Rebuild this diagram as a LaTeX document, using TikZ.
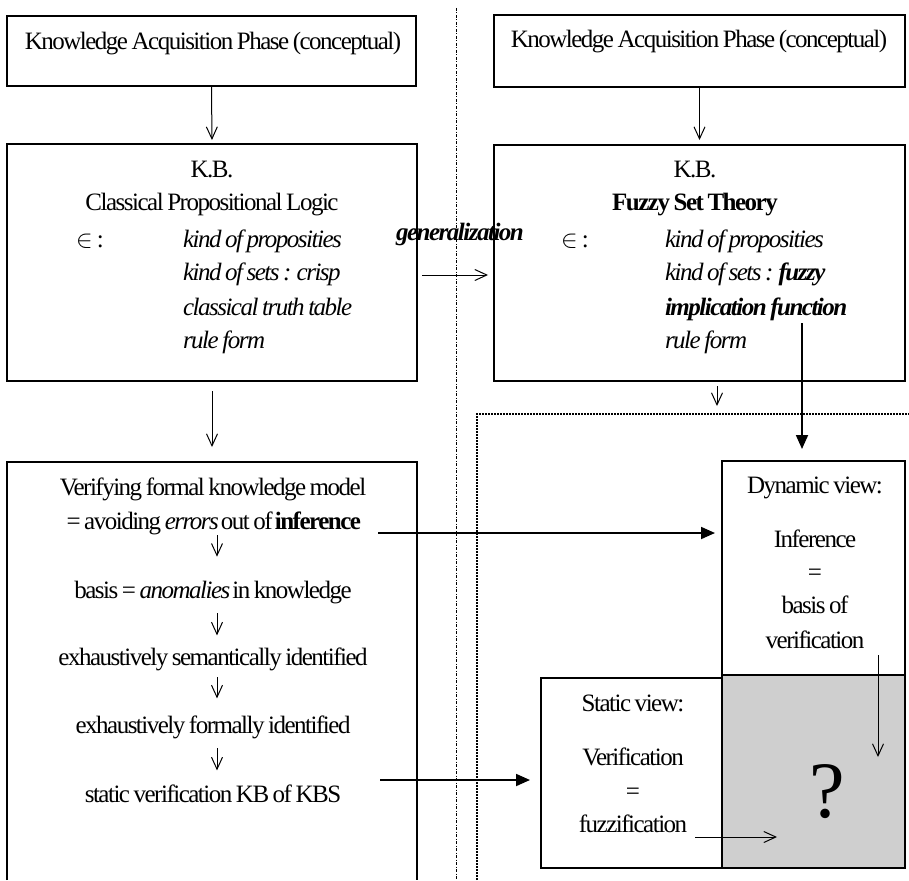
\documentclass[tikz,border=0pt]{standalone}
\usepackage{fontspec}
\setmainfont{Liberation Serif}[LetterSpace=-6, WordSpace=0.75]
\usetikzlibrary{arrows.meta}
\begin{document}
\begin{tikzpicture}[x=1pt,y=-1pt,
  txt/.style={inner sep=0pt, outer sep=0pt, anchor=base, font=\fontsize{25}{29}\selectfont},
  ltxt/.style={txt, anchor=base west},
  boxframe/.style={draw, line width=1.8pt, inner sep=0pt, outer sep=0pt, anchor=north west},
  thinarrow/.style={line width=1pt, -{Straight Barb[length=12pt,width=11pt,line width=1pt]}},
  boldarrow/.style={line width=1.8pt, -{Triangle[length=14pt,width=12pt]}},
  separator/.style={line width=1pt, dash pattern=on 3pt off 1.5pt on 1pt off 1.5pt},
  region/.style={line width=1.6pt, dash pattern=on 1.6pt off 1.4pt},
]
\fill[white] (0,0) rectangle (909,880);
\useasboundingbox (0,0) rectangle (909,880);

% column separator and dotted region of the fuzzy side
\draw[separator] (456,8) -- (456,880);
\draw[region] (477,880) |- (909,414);

% boxes
\node[boxframe, minimum width=409pt, minimum height=70pt] (hdrL) at (7,16) {};
\node[boxframe, minimum width=411pt, minimum height=72pt] (hdrR) at (494,15) {};
\node[boxframe, minimum width=410pt, minimum height=237pt] (kbL) at (7,144) {};
\node[boxframe, minimum width=411pt, minimum height=236pt] (kbR) at (494,145) {};
\draw[line width=1.8pt] (7,880) |- (417,462) -- (417,880);
\coordinate (lbN) at (212,462);
\node[boxframe, minimum width=364pt, minimum height=190pt] (stat) at (541,678) {};
\node[boxframe, fill=gray!38, minimum width=183pt, minimum height=193pt] (grey) at (722,675) {};
\node[boxframe, fill=white, minimum width=183pt, minimum height=214pt] (dyn) at (722,461) {};

% headers
\node[txt] (hdrLt) at (213,50) {Knowledge Acquisition Phase (conceptual)};
\node[txt] (hdrRt) at (699,48) {Knowledge Acquisition Phase (conceptual)};

% classical knowledge base
\node[txt] (kbLa) at (212,177) {K.B.};
\node[txt] (kbLb) at (212,210) {Classical Propositional Logic};
\node[txt] (kbLin) at (90,247) {$\in$\,:};
\node[ltxt] (kbL1) at (183,247) {\itshape kind of proposities};
\node[ltxt] (kbL2) at (183,280) {\itshape kind of sets : crisp};
\node[ltxt] (kbL3) at (183,315) {\itshape classical truth table};
\node[ltxt] (kbL4) at (183,348) {\itshape rule form};

% fuzzy knowledge base
\node[txt] (kbRa) at (695,177) {K.B.};
\node[txt] (kbRb) at (695,210) {\bfseries Fuzzy Set Theory};
\node[txt] (kbRin) at (575,247) {$\in$\,:};
\node[ltxt] (kbR1) at (665,247) {\itshape kind of proposities};
\node[ltxt] (kbR2) at (665,280) {\itshape kind of sets : \bfseries fuzzy};
\node[ltxt] (kbR3) at (665,315) {\bfseries\itshape implication function};
\node[ltxt] (kbR4) at (665,348) {\itshape rule form};

\node[txt] (gen) at (460,240) {\bfseries\itshape generalization};

% verification chain
\node[txt] (lb1) at (213,495) {Verifying formal knowledge model};
\node[txt] (lb2) at (213,529) {= avoiding \textit{errors} out of \textbf{inference}};
\node[txt] (lb3) at (213,598) {basis = \textit{anomalies} in knowledge};
\node[txt] (lb4) at (213,665) {exhaustively semantically identified};
\node[txt] (lb5) at (213,733) {exhaustively formally identified};
\node[txt] (lb6) at (213,802) {static verification KB of KBS};

% dynamic view
\node[txt] (dy1) at (815,493) {Dynamic view:};
\node[txt] (dy2) at (815,547) {Inference};
\node[txt] (dy3) at (815,580) {=};
\node[txt] (dy4) at (815,613) {basis of};
\node[txt] (dy5) at (815,648) {verification};

% static view
\node[txt] (st1) at (633,711) {Static view:};
\node[txt] (st2) at (633,765) {Verification};
\node[txt] (st3) at (633,799) {=};
\node[txt] (st4) at (633,832) {fuzzification};

\node[txt, font=\fontsize{80}{82}\selectfont] (qm) at (827,817) {?};

% connectors
\draw[thinarrow, shorten >=4pt] (hdrL.south) -- (kbL.north);
\draw[thinarrow, shorten >=5pt] (hdrR.south) -- (kbR.north);
\draw[thinarrow, shorten <=10pt, shorten >=15pt] (kbL.south) -- (lbN);
\coordinate (dotN) at (717,414);
\draw[thinarrow, shorten <=5pt, shorten >=8pt] (kbR.south -| dotN) -- (dotN);
\coordinate (genA) at (422,275);
\draw[thinarrow, shorten >=6pt] (genA) -- (genA -| kbR.west);
\coordinate (impl) at (802,323);
\draw[boldarrow, shorten >=12pt] (impl) -- (impl |- dyn.north);

\coordinate (ax) at (217,0);
\draw[thinarrow, shorten <=1pt, shorten >=24pt] (lb2.south -| ax) -- (lb3.north -| ax);
\draw[thinarrow, shorten <=10pt, shorten >=12pt] (lb3.south -| ax) -- (lb4.north -| ax);
\draw[thinarrow, shorten <=7pt, shorten >=17pt] (lb4.south -| ax) -- (lb5.north -| ax);
\draw[thinarrow, shorten <=10pt, shorten >=14pt] (lb5.south -| ax) -- (lb6.north -| ax);

\coordinate (infA) at (378,533);
\draw[boldarrow, shorten >=7pt] (infA) -- (infA -| dyn.west);
\coordinate (stA) at (380,780);
\draw[boldarrow, shorten >=11pt] (stA) -- (stA -| stat.west);

\coordinate (dynA) at (878,655);
\coordinate (dynB) at (878,757);
\draw[thinarrow] (dynA) -- (dynB);
\coordinate (fzA) at (695,837);
\coordinate (fzB) at (777,837);
\draw[thinarrow] (fzA) -- (fzB);
\end{tikzpicture}
\end{document}
